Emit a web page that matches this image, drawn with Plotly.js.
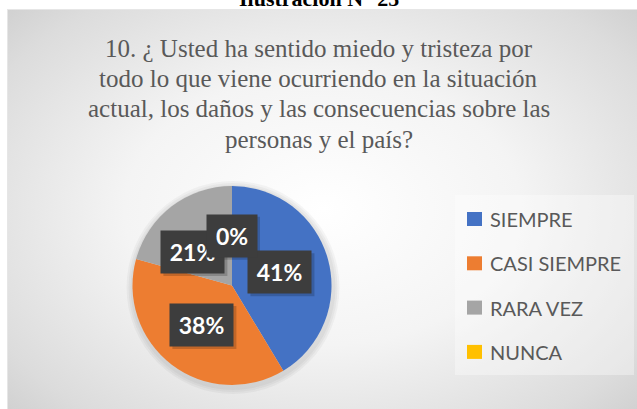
<!DOCTYPE html>
<html>
<head>
<meta charset="utf-8">
<script src="https://cdn.plot.ly/plotly-3.0.1.min.js"></script>
<style>
  html, body { margin: 0; padding: 0; background: #ffffff; }
  #wrap { position: relative; width: 637px; height: 409px; overflow: hidden; background: #ffffff; }
  #bg { position: absolute; left: 7px; top: 9px; width: 630px; height: 400px;
        background: radial-gradient(ellipse 70% 75% at 50% 50%, #ffffff 0%, #f4f4f4 45%, #dcdcdc 85%, #cfcfcf 100%);
        border-top: 1px solid #e6e6e6; border-left: 1px solid #e6e6e6; }
  #chart { position: absolute; left: 0; top: 0; width: 637px; height: 409px; }
</style>
</head>
<body>
<div id="wrap">
  <div id="bg"></div>
  <div id="chart"></div>
</div>
<script>
// ---- data ----
const categories = ["SIEMPRE", "CASI SIEMPRE", "RARA VEZ", "NUNCA"];
const counts = [12, 11, 6, 0];
const colors = ["#4472C4", "#ED7D31", "#A5A5A5", "#FFC000"];
const titleLines = [
  "10. ¿ Usted ha sentido miedo y tristeza por",
  "todo lo que viene ocurriendo en la situación",
  "actual, los daños y las consecuencias sobre las",
  "personas y el país?"
];
const captionText = "Ilustración N° 25";

// ---- layout geometry (pixels) ----
const W = 637, H = 409;
const pie = { cx: 232, cy: 285.5, r: 99.5 };
const px = x => x / W;
const py = y => 1 - y / H;

const total = counts.reduce((a, b) => a + b, 0);
const annotations = [];
const shapes = [];

// soft glow behind the pie
[7, 5, 3].forEach(d => {
  shapes.push({
    type: "circle", xref: "paper", yref: "paper", layer: "below",
    x0: px(pie.cx - pie.r - d + 1), x1: px(pie.cx + pie.r + d + 1),
    y0: py(pie.cy + pie.r + d + 2), y1: py(pie.cy - pie.r - d + 2),
    fillcolor: "rgba(0,0,0,0.035)", line: { width: 0 }
  });
});

// legend area (slightly lighter panel)
shapes.push({
  type: "rect", xref: "paper", yref: "paper", layer: "below",
  x0: px(455), x1: px(634), y0: py(375), y1: py(195),
  fillcolor: "rgba(255,255,255,0.35)", line: { width: 0 }
});

// title, one annotation per line
const titleBase = 48.5, titleStep = 30.2;
titleLines.forEach((t, i) => {
  annotations.push({
    x: 0.5, y: py(titleBase + i * titleStep), xref: "paper", yref: "paper",
    xanchor: "center", yanchor: "middle", showarrow: false,
    text: t,
    font: { family: "'Liberation Serif', 'Times New Roman', serif", size: 25, color: "#595959" }
  });
});

// data label positions from slice mid-angles (clockwise from 12 o'clock)
const labelNudge = { 2: [-9, 6] };
let acc = 0;
counts.forEach((v, i) => {
  const frac = v / total;
  const mid = (acc + frac / 2) * 2 * Math.PI;
  acc += frac;
  let x = pie.cx + 0.5 * pie.r * Math.sin(mid);
  let y = pie.cy - 0.5 * pie.r * Math.cos(mid);
  if (labelNudge[i]) { x += labelNudge[i][0]; y += labelNudge[i][1]; }
  const txt = Math.round(frac * 100) + "%";
  const bw = txt.length === 2 ? 50 : 63;
  // drop shadow
  shapes.push({
    type: "rect", xref: "paper", yref: "paper",
    x0: px(x - bw / 2 + 2), x1: px(x + bw / 2 + 3), y0: py(y + 21 + 3), y1: py(y - 21 + 2),
    fillcolor: "rgba(0,0,0,0.18)", line: { width: 0 }
  });
  annotations.push({
    x: px(x), y: py(y), xref: "paper", yref: "paper",
    xanchor: "center", yanchor: "middle", showarrow: false,
    text: "<b>" + txt + "</b>",
    font: { family: "Lato, 'Open Sans', sans-serif", size: 23, color: "#ffffff" },
    bgcolor: "#3d3d3d", borderpad: 0,
    width: bw, height: 42
  });
});

// legend drawn as annotations + swatches
const legTop = 219, legStep = 44.3, legX = 467, sw = 15;
categories.forEach((c, i) => {
  const yc = legTop + i * legStep;
  shapes.push({
    type: "rect", xref: "paper", yref: "paper",
    x0: px(legX), x1: px(legX + sw), y0: py(yc + 7), y1: py(yc - 7),
    fillcolor: colors[i], line: { width: 0 }
  });
  annotations.push({
    x: px(488), y: py(yc), xref: "paper", yref: "paper",
    xanchor: "left", yanchor: "middle", showarrow: false,
    text: c, font: { family: "Lato, 'Open Sans', sans-serif", size: 20, color: "#595959" }
  });
});

// caption above the chart frame (partly cut off like the source)
annotations.push({
  x: 0.5, y: py(-2), xref: "paper", yref: "paper",
  xanchor: "center", yanchor: "middle", showarrow: false,
  text: "<b>" + captionText + "</b>",
  font: { family: "'Liberation Serif', 'Times New Roman', serif", size: 22, color: "#000000" }
});

const trace = {
  type: "pie",
  labels: categories,
  values: counts,
  sort: false,
  direction: "clockwise",
  rotation: 0,
  marker: { colors: colors, line: { width: 0 } },
  textinfo: "none",
  hoverinfo: "label+percent",
  showlegend: false,
  domain: { x: [px(pie.cx - pie.r), px(pie.cx + pie.r)], y: [py(pie.cy + pie.r), py(pie.cy - pie.r)] }
};

const layout = {
  width: W, height: H,
  margin: { l: 0, r: 0, t: 0, b: 0 },
  paper_bgcolor: "rgba(0,0,0,0)",
  plot_bgcolor: "rgba(0,0,0,0)",
  showlegend: false,
  annotations: annotations,
  shapes: shapes
};

Plotly.newPlot("chart", [trace], layout, { displayModeBar: false, staticPlot: true });
</script>
</body>
</html>
